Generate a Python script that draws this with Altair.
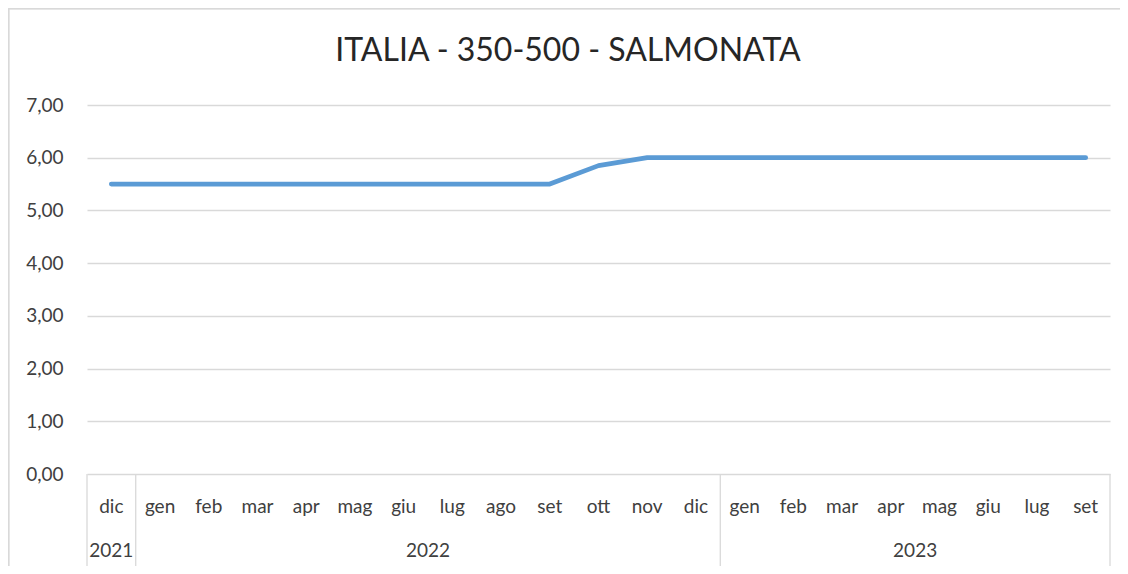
import altair as alt
import pandas as pd

# ---- data ----
months = ["dic", "gen", "feb", "mar", "apr", "mag", "giu", "lug", "ago", "set", "ott",
          "nov", "dic", "gen", "feb", "mar", "apr", "mag", "giu", "lug", "set"]
years = ["2021", "2022", "2022", "2022", "2022", "2022", "2022", "2022", "2022", "2022", "2022",
         "2022", "2022", "2023", "2023", "2023", "2023", "2023", "2023", "2023", "2023"]
values = [5.50, 5.50, 5.50, 5.50, 5.50, 5.50, 5.50, 5.50, 5.50, 5.50, 5.85,
          6.00, 6.00, 6.00, 6.00, 6.00, 6.00, 6.00, 6.00, 6.00, 6.00]
y_ticks = [0, 1, 2, 3, 4, 5, 6, 7]
title_text = "ITALIA - 350-500 - SALMONATA"

# ---- tables built from the lists ----
df = pd.DataFrame({"idx": list(range(len(months))), "month": months, "year": years, "value": values})

year_names = []
year_first = []
year_last = []
for i, y in enumerate(years):
    if not year_names or year_names[-1] != y:
        year_names.append(y)
        year_first.append(i)
        year_last.append(i)
    else:
        year_last[-1] = i
years_df = pd.DataFrame({
    "year": year_names,
    "center": [(a + b) / 2 for a, b in zip(year_first, year_last)],
})
sep_df = pd.DataFrame({"pos": [f - 0.5 for f in year_first] + [year_last[-1] + 0.5]})
title_df = pd.DataFrame({"title": [title_text]})

W, H = 1023, 369
FONT = "Lato"
TXT = "#404040"
GRID = "#d9d9d9"

xscale = alt.Scale(domain=[-0.5, len(months) - 0.5], nice=False, zero=False)
yscale = alt.Scale(domain=[0, 7], nice=False)

base = alt.Chart(df)

line = base.mark_line(color="#5B9BD5", strokeWidth=4.8, strokeCap="round", strokeJoin="round").encode(
    x=alt.X("idx:Q", scale=xscale, axis=None),
    y=alt.Y("value:Q", scale=yscale, axis=alt.Axis(
        values=y_ticks, title=None, domain=False, ticks=False, grid=True,
        gridColor=GRID, gridWidth=1.3,
        labelExpr="replace(format(datum.value, '.2f'), '.', ',')",
        labelFont=FONT, labelFontSize=19, labelColor=TXT, labelPadding=24)),
)

month_text = base.mark_text(font=FONT, fontSize=19, color=TXT, baseline="middle").encode(
    x=alt.X("idx:Q", scale=xscale, axis=None),
    y=alt.value(H + 33),
    text="month:N",
)

year_text = alt.Chart(years_df).mark_text(font=FONT, fontSize=19, color=TXT, baseline="middle").encode(
    x=alt.X("center:Q", scale=xscale, axis=None),
    y=alt.value(H + 77),
    text="year:N",
)

seps = alt.Chart(sep_df).mark_rule(color=GRID, strokeWidth=1.3).encode(
    x=alt.X("pos:Q", scale=xscale, axis=None),
    y=alt.value(H),
    y2=alt.value(H + 93),
)

title_mark = alt.Chart(title_df).mark_text(
    font=FONT, fontSize=32, color="#262626", align="center", baseline="middle"
).encode(
    x=alt.value(481), y=alt.value(-54), text="title:N"
)

border_left = alt.Chart(sep_df).mark_rule(color=GRID, strokeWidth=1.5).encode(
    x=alt.value(-78.5), y=alt.value(-96.5), y2=alt.value(H + 120))
border_top = alt.Chart(sep_df).mark_rule(color=GRID, strokeWidth=1.5).encode(
    x=alt.value(-78.5), x2=alt.value(W + 20), y=alt.value(-96.5))

chart = alt.layer(border_left, border_top, seps, line, month_text, year_text, title_mark).properties(
    width=W, height=H,
    autosize=alt.AutoSizeParams(type="none"),
    padding={"left": 79, "top": 97, "right": 10, "bottom": 92},
).configure_view(stroke=None)

chart.save("out.html", embed_options={"renderer": "svg", "actions": False})
